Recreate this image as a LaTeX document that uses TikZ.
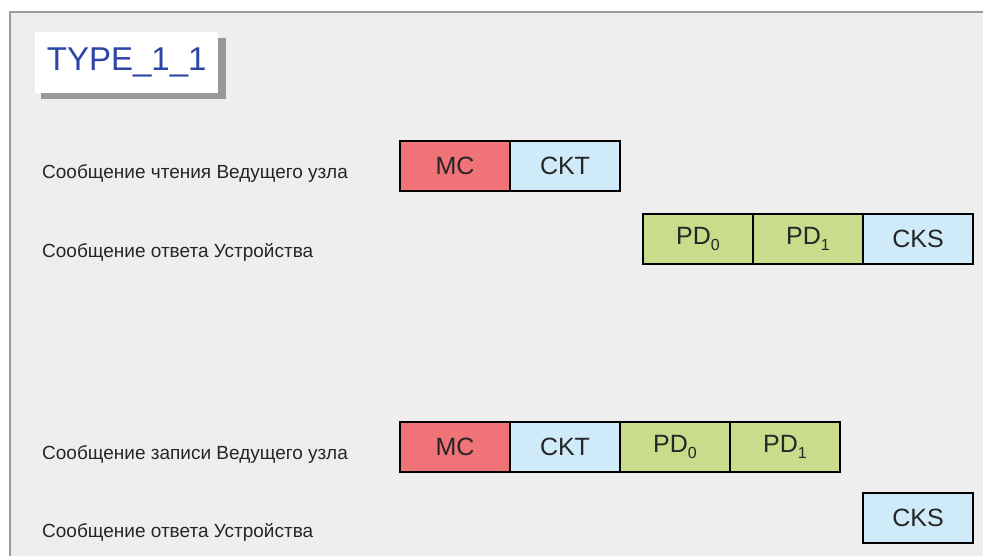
\documentclass[tikz,border=0pt]{standalone}
\usepackage{fontspec}
\setmainfont{Liberation Sans}
\usetikzlibrary{positioning}

\definecolor{panelgray}{HTML}{EEEEEE}
\definecolor{framegray}{HTML}{9A9A9A}
\definecolor{shadowgray}{HTML}{999999}
\definecolor{titleblue}{HTML}{2E44A6}
\definecolor{mcred}{HTML}{F07378}
\definecolor{ckblue}{HTML}{CFEBFA}
\definecolor{pdgreen}{HTML}{CADC8C}

\newcommand{\pdidx}[1]{\raisebox{-0.4ex}{\fontsize{16}{16}\selectfont #1}}

\begin{document}
\begin{tikzpicture}[
			x=1pt, y=-1pt,
			field/.style={rectangle, draw, line width=1.3pt, minimum width=110pt, minimum height=50pt,
				inner sep=0pt, outer sep=0pt, font=\fontsize{25}{30}\selectfont, text=black!85},
			msglabel/.style={anchor=base west, inner sep=0pt, font=\fontsize{19}{22}\selectfont, text=black!85},
			title/.style={fill=white, minimum width=183pt, minimum height=61pt, inner sep=0pt,
				text=titleblue, font=\fontsize{33}{40}\selectfont}
		]
		\useasboundingbox (0,0) rectangle (983,556);
		
		% Panel
		\fill[panelgray] (10,12) rectangle (983,556);
		\draw[framegray, line width=1.5pt] (10,556) -- (10,12) -- (983,12);
		
		% Title
		\fill[shadowgray] (41,38) rectangle (226,99);
		\node[title, anchor=north west] (ttl) at (35,32) {TYPE\_1\_1};
		
		% Master read message
		\node[msglabel] (lblread) at (42,179) {Сообщение чтения Ведущего узла};
		\node[field, fill=mcred, anchor=north west] (rmc) at (400,141) {MC};
		\node[field, fill=ckblue, right=0pt of rmc] (rckt) {CKT};
		
		% Device reply
		\node[msglabel] (lblreply) at (42,258) {Сообщение ответа Устройства};
		\node[field, fill=pdgreen, anchor=north west] (apd0) at (643,214) {PD\pdidx{0}};
		\node[field, fill=pdgreen, right=0pt of apd0] (apd1) {PD\pdidx{1}};
		\node[field, fill=ckblue, right=0pt of apd1] (acks) {CKS};
		
		% Master write message
		\node[msglabel] (lblwrite) at (42,459) {Сообщение записи Ведущего узла};
		\node[field, fill=mcred, anchor=north west] (wmc) at (400,422) {MC};
		\node[field, fill=ckblue, right=0pt of wmc] (wckt) {CKT};
		\node[field, fill=pdgreen, right=0pt of wckt] (wpd0) {PD\pdidx{0}};
		\node[field, fill=pdgreen, right=0pt of wpd0] (wpd1) {PD\pdidx{1}};
		
		% Device reply
		\node[msglabel] (lblack) at (42,537) {Сообщение ответа Устройства};
		\node[field, fill=ckblue, anchor=north west] (bcks) at (863,493) {CKS};
		
		\end{tikzpicture}
\end{document}
